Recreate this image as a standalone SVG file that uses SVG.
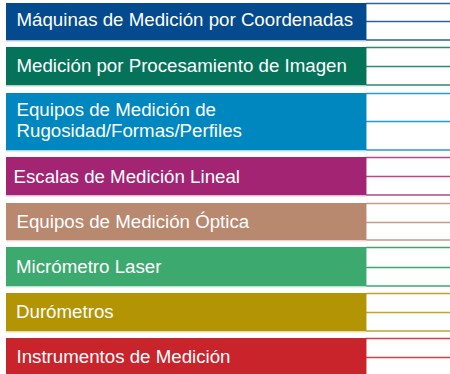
<svg xmlns="http://www.w3.org/2000/svg" width="450" height="374" viewBox="0 0 450 374">
<style>
text{font-family:"Liberation Sans",Arial,sans-serif;font-size:18.7px;fill:#fff}
.ln{stroke-width:1.4;fill:none}
.edge{stroke-width:1;opacity:0.45}
</style>
<rect width="450" height="374" fill="#fff"/>
<g id="n1">
<rect x="6" y="3" width="360" height="37" fill="#034a8e"/>
<line x1="6" y1="40.8" x2="366" y2="40.8" stroke="#034a8e" class="edge"/>
<path class="ln" stroke="#2a63a0" d="M366 3.5H450M366 21.5H450M366 40H450"/>
<line x1="366.5" y1="3" x2="366.5" y2="40" stroke="#034a8e" class="edge"/>
<text x="16.5" y="26">Máquinas de Medición por Coordenadas</text>
</g>
<g id="n2">
<rect x="6" y="47" width="360" height="38" fill="#04735a"/>
<line x1="6" y1="85.8" x2="366" y2="85.8" stroke="#04735a" class="edge"/>
<path class="ln" stroke="#2d8a72" d="M366 47.5H450M366 66.5H450M366 85H450"/>
<line x1="366.5" y1="47" x2="366.5" y2="85" stroke="#04735a" class="edge"/>
<text x="16.5" y="71.5">Medición por Procesamiento de Imagen</text>
</g>
<g id="n3">
<rect x="6" y="93" width="360" height="57" fill="#0087c0"/>
<line x1="6" y1="150.8" x2="366" y2="150.8" stroke="#0087c0" class="edge"/>
<path class="ln" stroke="#2a9acb" d="M366 93.5H450M366 121.5H450M366 150H450"/>
<line x1="366.5" y1="93" x2="366.5" y2="150" stroke="#0087c0" class="edge"/>
<text x="16.5" y="116">Equipos de Medición de</text>
<text x="16.5" y="137">Rugosidad/Formas/Perfiles</text>
</g>
<g id="n4">
<rect x="6" y="157" width="360" height="38" fill="#a32473"/>
<line x1="6" y1="195.8" x2="366" y2="195.8" stroke="#a32473" class="edge"/>
<path class="ln" stroke="#b4488a" d="M366 157.5H450M366 176.5H450M366 195H450"/>
<line x1="366.5" y1="157" x2="366.5" y2="195" stroke="#a32473" class="edge"/>
<text x="13.5" y="182.5">Escalas de Medición Lineal</text>
</g>
<g id="n5">
<rect x="6" y="203" width="360" height="37" fill="#b8886f"/>
<line x1="6" y1="240.8" x2="366" y2="240.8" stroke="#b8886f" class="edge"/>
<path class="ln" stroke="#c59c86" d="M366 203.5H450M366 222.5H450M366 240H450"/>
<line x1="366.5" y1="203" x2="366.5" y2="240" stroke="#b8886f" class="edge"/>
<text x="16.5" y="227.5">Equipos de Medición Óptica</text>
</g>
<g id="n6">
<rect x="6" y="247" width="360" height="39" fill="#3caa6f"/>
<line x1="6" y1="286.8" x2="366" y2="286.8" stroke="#3caa6f" class="edge"/>
<path class="ln" stroke="#3caa6f" d="M366 247.5H450M366 267.5H450M366 286H450"/>
<line x1="366.5" y1="247" x2="366.5" y2="286" stroke="#3caa6f" class="edge"/>
<text x="16" y="272.5">Micrómetro Laser</text>
</g>
<g id="n7">
<rect x="6" y="293" width="360" height="38" fill="#b39405"/>
<line x1="6" y1="331.8" x2="366" y2="331.8" stroke="#b39405" class="edge"/>
<path class="ln" stroke="#bfa530" d="M366 293.5H450M366 312.5H450M366 331H450"/>
<line x1="366.5" y1="293" x2="366.5" y2="331" stroke="#b39405" class="edge"/>
<text x="16" y="318">Durómetros</text>
</g>
<g id="n8">
<rect x="6" y="338" width="360" height="38" fill="#c9232b"/>
<path class="ln" stroke="#d24048" d="M366 338.5H450M366 357.5H450"/>
<line x1="366.5" y1="338" x2="366.5" y2="374" stroke="#c9232b" class="edge"/>
<text x="16.5" y="363">Instrumentos de Medición</text>
</g>
<g id="connectors"></g>
</svg>
